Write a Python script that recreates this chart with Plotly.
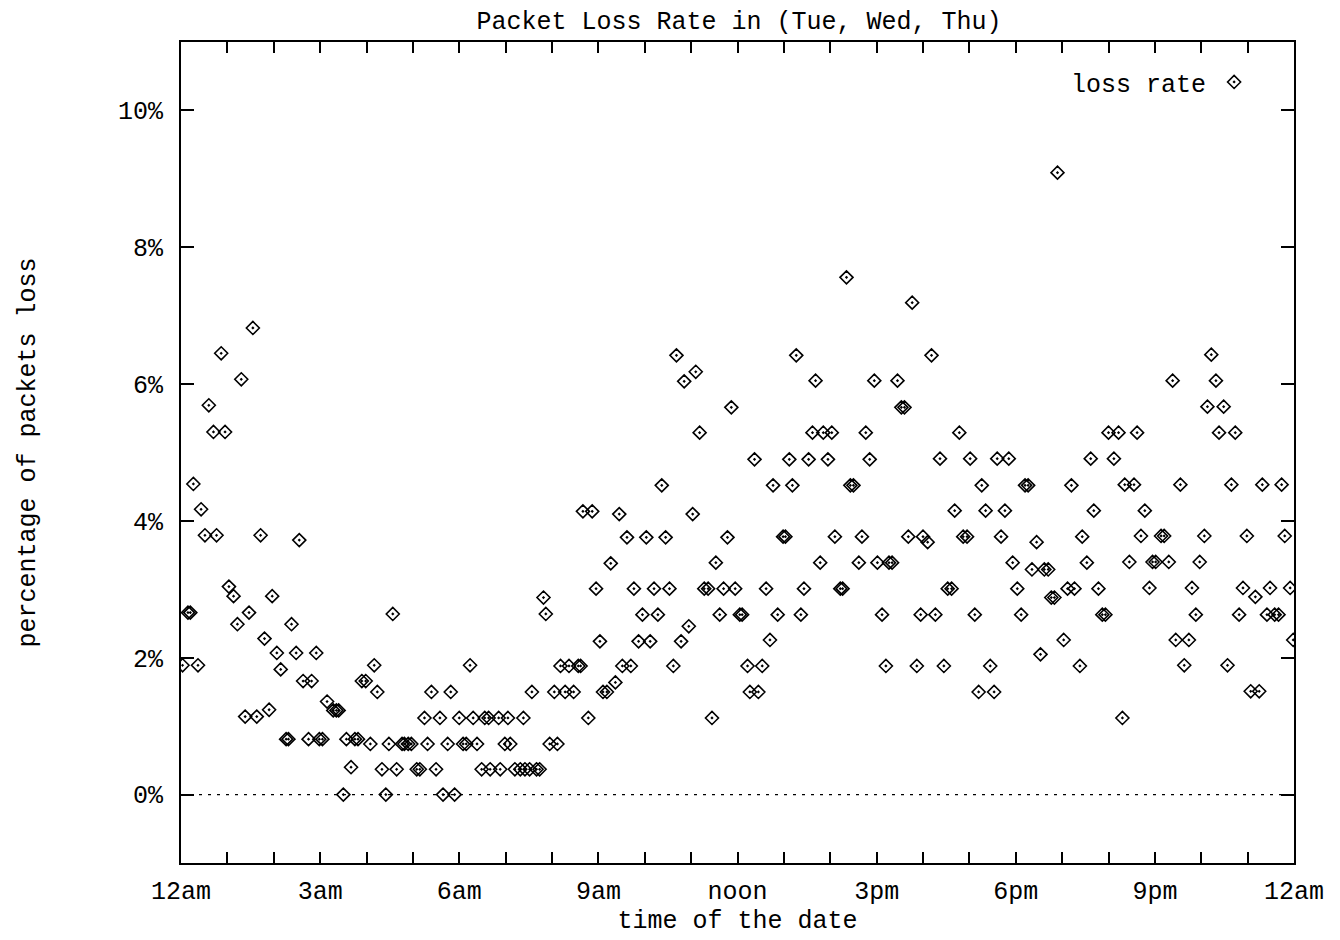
import plotly.graph_objects as go

# time of day in minutes after midnight, and packet loss rate in percent
time_min = [
    2, 9, 12, 16, 22, 26, 31, 36, 42, 46, 52, 57, 62, 68, 73, 78, 83, 88, 93, 98,
    103, 108, 114, 118, 124, 129, 136, 139, 143, 149, 153, 158, 165, 169, 175, 179,
    183, 189, 197, 201, 204, 210, 214, 220, 225, 229, 234, 239,
    245, 250, 254, 260, 265, 269, 274, 279, 286, 289, 294, 298, 305, 309, 315, 319,
    324, 330, 335, 339, 345, 349, 354, 360, 365, 369, 374, 378, 383, 389, 393, 398,
    400, 411, 413, 419, 423, 426, 432, 439, 443, 445, 451, 454, 460, 464, 469, 472,
    477, 483, 487,
    491, 497, 502, 508, 514, 517, 520, 527, 532, 537, 542, 546, 551, 556, 562, 567,
    571, 577, 582, 586, 592, 597, 602, 607, 612, 617, 622, 627, 632, 637, 641, 647,
    651, 657, 662, 666, 671, 677, 682, 687, 692, 697, 702, 707, 712, 717,
    723, 726, 733, 736, 742, 747, 752, 757, 762, 766, 772, 779, 782, 787, 791, 796,
    802, 806, 812, 817, 821, 827, 831, 837, 842, 846, 853, 856, 861, 866, 870, 877,
    881, 886, 891, 897, 901, 907, 912, 916, 920, 927, 932, 936, 941, 946, 952, 957,
    960, 966, 971, 976, 982, 987, 992, 997, 1001, 1007, 1012, 1017, 1021, 1027, 1032,
    1036, 1041, 1047, 1052, 1056, 1061, 1066, 1071, 1076, 1082, 1087, 1092, 1096,
    1101, 1107, 1112, 1117, 1122, 1126, 1130, 1134, 1142, 1147, 1152, 1156, 1163,
    1166, 1172, 1177, 1181, 1187, 1192, 1196, 1200,
    1207, 1213, 1218, 1221, 1227, 1233, 1237, 1242, 1247, 1253, 1257, 1261, 1268,
    1272, 1278, 1283, 1287, 1293, 1298, 1304, 1308, 1313, 1318, 1324, 1328, 1333,
    1339, 1343, 1349, 1354, 1359, 1364, 1369, 1374, 1379, 1384, 1390, 1395, 1399,
    1405, 1409, 1415, 1420, 1424, 1428, 1435, 1439,
]

loss_pct = [
    1.89, 2.66, 2.66, 4.54, 1.89, 4.17, 3.79, 5.69, 5.30, 3.79, 6.45, 5.30, 3.04, 2.90, 2.49, 6.07, 1.14, 2.66, 6.82, 1.14,
    3.79, 2.28, 1.24, 2.90, 2.07, 1.83, 0.81, 0.81, 2.49, 2.07, 3.72, 1.66, 0.81, 1.66, 2.07, 0.81,
    0.81, 1.36, 1.23, 1.23, 1.23, 0.00, 0.81, 0.40, 0.81, 0.81, 1.66, 1.66,
    0.74, 1.89, 1.50, 0.37, 0.00, 0.74, 2.64, 0.37, 0.74, 0.74, 0.74, 0.74, 0.37, 0.37, 1.12, 0.74,
    1.50, 0.37, 1.12, 0.00, 0.74, 1.50, 0.00, 1.12, 0.74, 0.74, 1.89, 1.12, 0.74, 0.37, 1.12, 1.12,
    0.37, 1.12, 0.37, 0.74, 1.12, 0.74, 0.37, 0.37, 1.12, 0.37, 0.37, 1.50, 0.37, 0.37, 2.88, 2.64,
    0.74, 1.50, 0.74,
    1.88, 1.50, 1.88, 1.50, 1.88, 1.88, 4.14, 1.12, 4.14, 3.01, 2.24, 1.50, 1.50, 3.38, 1.64, 4.10,
    1.88, 3.76, 1.88, 3.01, 2.24, 2.63, 3.76, 2.24, 3.01, 2.63, 4.52, 3.76, 3.01, 1.88, 6.42, 2.24,
    6.04, 2.46, 4.10, 6.18, 5.29, 3.01, 3.01, 1.12, 3.39, 2.63, 3.01, 3.76, 5.66, 3.01,
    2.63, 2.63, 1.88, 1.50, 4.90, 1.50, 1.88, 3.01, 2.26, 4.52, 2.63, 3.77, 3.77, 4.90, 4.52, 6.42,
    2.63, 3.01, 4.90, 5.29, 6.05, 3.39, 5.29, 4.90, 5.29, 3.77, 3.01, 3.01, 7.56, 4.52, 4.52, 3.39,
    3.77, 5.29, 4.90, 6.05, 3.39, 2.63, 1.88, 3.39, 3.39, 6.05, 5.66, 5.66, 3.77, 7.19, 1.88, 2.63,
    3.77, 3.69, 6.42, 2.63, 4.91, 1.88, 3.01, 3.01, 4.15, 5.29, 3.77, 3.77, 4.91, 2.63, 1.50,
    4.52, 4.15, 1.88, 1.50, 4.91, 3.77, 4.15, 4.91, 3.39, 3.01, 2.63, 4.52, 4.52,
    3.29, 3.69, 2.05, 3.29, 3.29, 2.88, 2.88, 9.09, 2.26, 3.01, 4.52, 3.01, 1.88,
    3.77, 3.39, 4.91, 4.15, 3.01, 2.63, 2.63, 5.29,
    4.91, 5.29, 1.12, 4.53, 3.40, 4.53, 5.29, 3.78, 4.15, 3.02, 3.40, 3.40, 3.78,
    3.78, 3.40, 6.05, 2.26, 4.53, 1.89, 2.26, 3.02, 2.63, 3.40, 3.78, 5.67, 6.43,
    6.05, 5.29, 5.67, 1.89, 4.53, 5.29, 2.63, 3.02, 3.78, 1.51, 2.89, 1.51, 4.53,
    2.63, 3.02, 2.63, 2.63, 4.53, 3.78, 3.02, 2.26,
]

hour_ticks = list(range(0, 25))
hour_labels = {0: "12am", 3: "3am", 6: "6am", 9: "9am", 12: "noon",
               15: "3pm", 18: "6pm", 21: "9pm", 24: "12am"}
y_ticks = [0, 2, 4, 6, 8, 10]
y_labels = ["0%", "2%", "4%", "6%", "8%", "10%"]

FONT = "Liberation Mono, Courier New, monospace"

hours = [m / 60.0 for m in time_min]

# the page body has an 8px default margin, so the figure is sized to fit
W, H = 1332, 932

fig = go.Figure()
fig.add_trace(go.Scatter(
    x=hours, y=loss_pct, mode="markers", name=" ",
    marker=dict(symbol="diamond-open-dot", size=10, color="black",
                line=dict(color="black", width=1.6)),
    showlegend=True,
))

# dotted zero line
fig.add_shape(type="line", xref="paper", x0=0, x1=1, yref="y", y0=0, y1=0,
              line=dict(color="black", width=1.2, dash="3px,6px"), layer="below")

fig.update_layout(
    width=W, height=H,
    margin=dict(l=173, r=46, t=34, b=77),
    paper_bgcolor="white", plot_bgcolor="white",
    font=dict(family=FONT, size=25, color="black"),
    title=dict(text="Packet Loss Rate in (Tue, Wed, Thu)", x=(739 - 8) / W, xref="container",
               y=1 - 12 / H, yref="container", yanchor="middle", xanchor="center",
               font=dict(family=FONT, size=25, color="black")),
    legend=dict(x=0.983, xanchor="right", y=0.979, yanchor="top",
                bgcolor="rgba(0,0,0,0)",
                title=dict(text="loss rate", side="left",
                           font=dict(family=FONT, size=25, color="black")),
                font=dict(family=FONT, size=25, color="black")),
)

fig.update_xaxes(
    range=[0, 24], tickmode="array", tickvals=hour_ticks,
    ticktext=[hour_labels.get(h, "") for h in hour_ticks],
    ticks="inside", ticklen=11, tickwidth=1.5, tickcolor="black",
    ticklabelstandoff=4,
    showline=True, linewidth=2, linecolor="black", mirror="ticks",
    showgrid=False, zeroline=False,
    title=dict(text="time of the date", standoff=0,
               font=dict(family=FONT, size=25, color="black")),
    tickfont=dict(family=FONT, size=25, color="black"),
)
fig.update_yaxes(
    range=[-1, 11], tickmode="array", tickvals=y_ticks, ticktext=y_labels,
    ticks="inside", ticklen=13, tickwidth=1.5, tickcolor="black",
    ticklabelstandoff=11,
    showline=True, linewidth=2, linecolor="black", mirror="ticks",
    showgrid=False, zeroline=False,
    title=dict(text="percentage of packets loss", standoff=75,
               font=dict(family=FONT, size=25, color="black")),
    tickfont=dict(family=FONT, size=25, color="black"),
)

fig.write_html("out.html")
